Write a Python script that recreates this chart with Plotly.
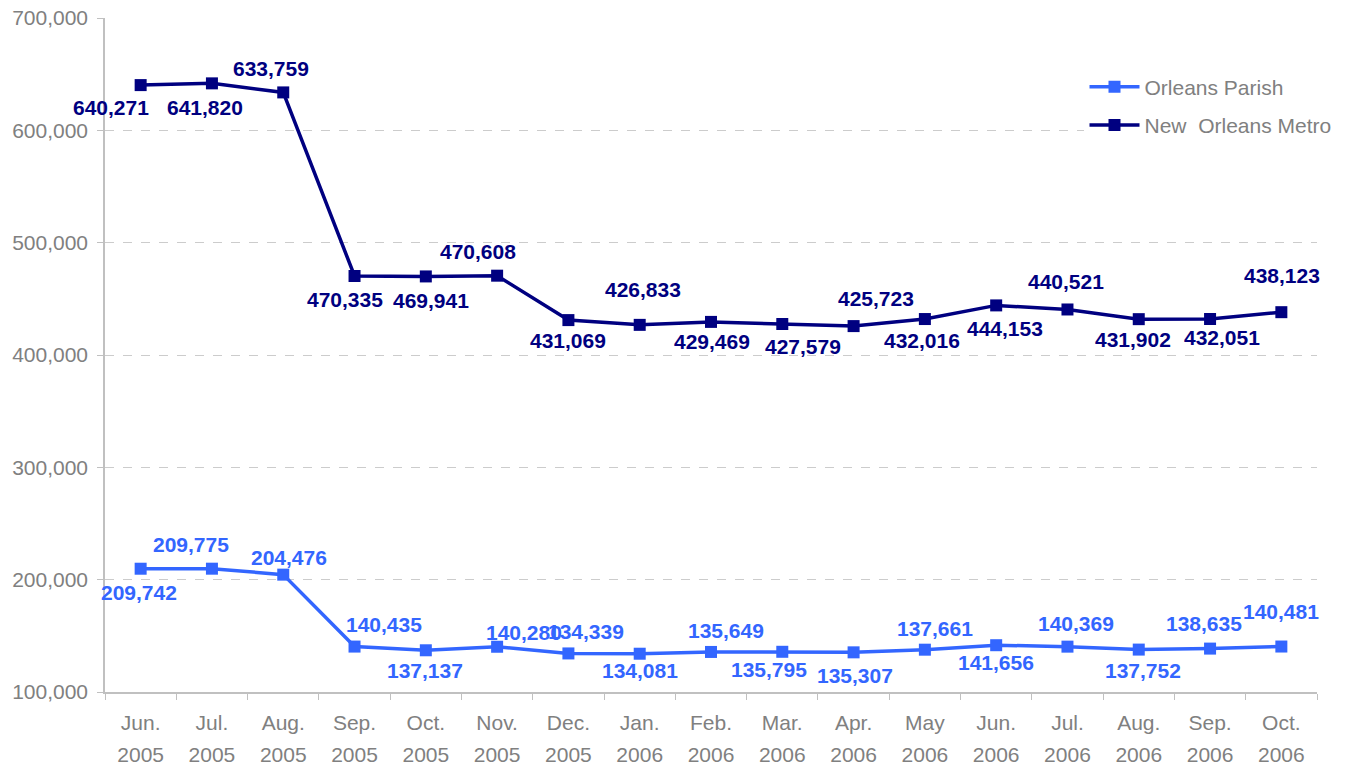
import plotly.graph_objects as go

months = ["Jun.", "Jul.", "Aug.", "Sep.", "Oct.", "Nov.", "Dec.", "Jan.", "Feb.", "Mar.",
          "Apr.", "May", "Jun.", "Jul.", "Aug.", "Sep.", "Oct."]
years = ["2005"] * 7 + ["2006"] * 10
categories = [f"{m} {y}" for m, y in zip(months, years)]

orleans_parish = [209742, 209775, 204476, 140435, 137137, 140280, 134339, 134081, 135649,
                  135795, 135307, 137661, 141656, 140369, 137752, 138635, 140481]
metro = [640271, 641820, 633759, 470335, 469941, 470608, 431069, 426833, 429469,
         427579, 425723, 432016, 444153, 440521, 431902, 432051, 438123]

# label offsets in pixels (xshift, yshift; positive = up) relative to the marker
orleans_off = [(-2, -24), (-21, 24), (6, 17), (29, 22), (-1, -20), (27, 14), (18, 22), (0, -17),
               (15, 21), (-13, -18), (1, -23), (10, 21), (0, -17), (9, 23), (4, -21), (-6, 25), (0, 35)]
metro_off = [(-30, -22), (-7, -24), (-12, 24), (-10, -24), (5, -24), (-19, 24), (0, -20), (3, 35),
             (1, -20), (21, -22), (22, 28), (-3, -21), (9, -23), (-1, 28), (-6, -20), (12, -18), (1, 37)]

C_OP = "#3366FF"
C_MT = "#000080"
FONT = "Liberation Sans, Arial"

fig = go.Figure()
fig.add_trace(go.Scatter(x=categories, y=orleans_parish, mode="lines+markers", name="Orleans Parish",
                         line=dict(color=C_OP, width=3.5), marker=dict(symbol="square", size=12, color=C_OP),
                         legendgroup="a"))
fig.add_trace(go.Scatter(x=categories, y=metro, mode="lines+markers", name="New  Orleans Metro",
                         line=dict(color=C_MT, width=3.5), marker=dict(symbol="square", size=12, color=C_MT),
                         legendgroup="b"))

# invisible trace for year labels on second x axis
fig.add_trace(go.Scatter(x=categories, y=metro, xaxis="x2", mode="markers",
                         marker=dict(opacity=0), showlegend=False, hoverinfo="skip"))

for vals, offs, col in [(orleans_parish, orleans_off, C_OP), (metro, metro_off, C_MT)]:
    for c, v, (dx, dy) in zip(categories, vals, offs):
        fig.add_annotation(x=c, y=v, text=f"{v:,}", showarrow=False, xshift=dx, yshift=dy,
                           font=dict(family=FONT, size=21, color=col, weight="bold"))

gray = "#808080"
fig.update_layout(
    width=1348, height=768,
    margin=dict(l=105, r=30, t=18, b=76),
    plot_bgcolor="white", paper_bgcolor="white",
    font=dict(family=FONT, size=21, color=gray),
    showlegend=True,
    legend=dict(x=0.8075, y=0.928, xanchor="left", yanchor="top", font=dict(size=21, color=gray),
                tracegroupgap=8, bgcolor="white", itemwidth=50),
    xaxis=dict(type="category", categoryorder="array", categoryarray=categories,
               range=[-0.5, 16.5], tickmode="array", tickvals=categories, ticktext=months,
               tickson="boundaries", ticks="outside", ticklen=6, tickcolor="#c0c0c0",
               showline=True, linecolor="#c0c0c0", linewidth=1.5, showgrid=False,
               tickfont=dict(size=21, color=gray), ticklabelstandoff=11, automargin=False),
    xaxis2=dict(type="category", categoryorder="array", categoryarray=categories,
                range=[-0.5, 16.5], overlaying="x", side="bottom", tickmode="array",
                tickvals=categories, ticktext=years, ticks="", showline=False, showgrid=False,
                tickfont=dict(size=21, color=gray), ticklabelstandoff=48, automargin=False),
    yaxis=dict(range=[100000, 700000], tickvals=[100000, 200000, 300000, 400000, 500000, 600000, 700000],
               tickformat=",", ticks="outside", ticklen=6, tickcolor="#c0c0c0",
               showline=True, linecolor="#c0c0c0", linewidth=1.5,
               showgrid=True, gridcolor="#cccccc", griddash="dash", gridwidth=1,
               tickfont=dict(size=21, color=gray), ticklabelstandoff=5, ticklabeloverflow="allow",
               zeroline=False, automargin=False),
)

fig.write_html("out.html", config={"displayModeBar": False},
               post_script="document.body.style.margin='0';document.body.style.overflow='hidden';")
